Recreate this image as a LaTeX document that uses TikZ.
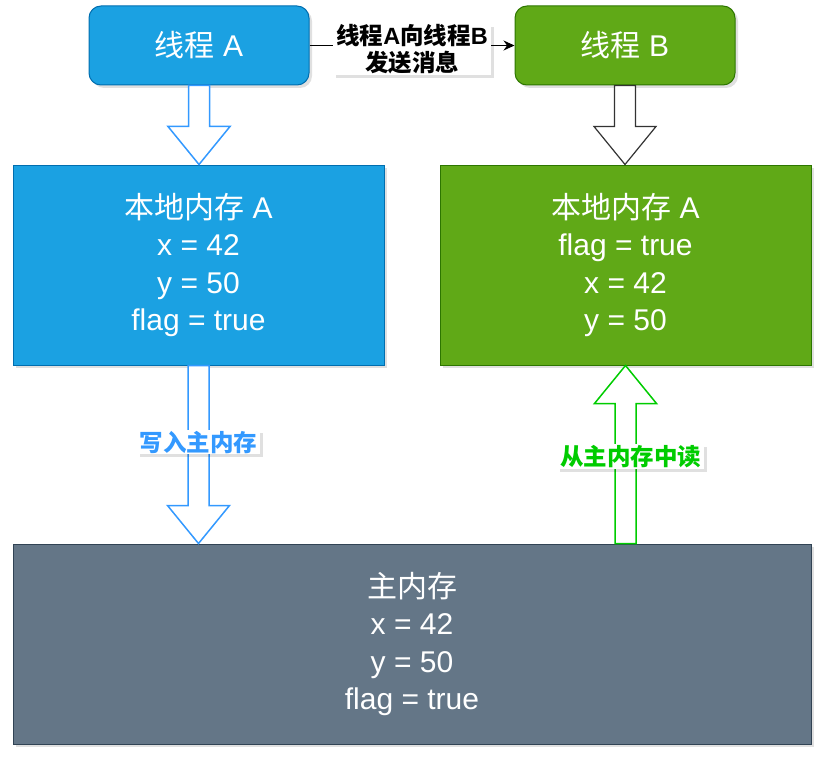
\documentclass[tikz,border=0pt]{standalone}
\usepackage{fontspec}
\setmainfont{Liberation Sans}
\newfontfamily\cjk{Noto Sans CJK SC}
\usetikzlibrary{arrows.meta,shadows,calc}
\definecolor{bluefill}{HTML}{1BA1E2}
\definecolor{bluestroke}{HTML}{006EAF}
\definecolor{greenfill}{HTML}{60A917}
\definecolor{greenstroke}{HTML}{2D7600}
\definecolor{grayfill}{HTML}{647687}
\definecolor{graystroke}{HTML}{314354}
\definecolor{arrowblue}{HTML}{3399FF}
\definecolor{arrowgreen}{HTML}{00CC00}
\definecolor{arrowdark}{HTML}{333333}
\newcommand{\blkarrow}[4]{%
  \draw[#1] let \p1=(#2), \p2=(#3) in
    (\x1-10.5pt,\y1) -- (\x1-10.5pt,\y2#4) -- (\x1-31pt,\y2#4) -- (\x1,\y2)
    -- (\x1+31pt,\y2#4) -- (\x1+10.5pt,\y2#4) -- (\x1+10.5pt,\y1) -- cycle;}
\begin{document}
\begin{tikzpicture}[x=1pt,y=-1pt,
  shadowed/.style={drop shadow={shadow xshift=3pt,shadow yshift=-3pt,fill=black,opacity=0.12}},
  boxtext/.style={text=white,align=center,font=\fontsize{30}{37.5}\selectfont},
  threadbox/.style={boxtext,rounded corners=12pt,line width=1pt,minimum width=220pt,minimum height=79pt,inner sep=0pt,shadowed},
  membox/.style={boxtext,line width=1pt,minimum height=200pt,inner sep=0pt,shadowed},
  blockarrow/.style={fill=white,line width=1.5pt,line join=miter},
  edgelabel/.style={fill=white,align=center,inner xsep=3pt,inner ysep=1pt,font=\fontsize{23.5}{27}\selectfont\bfseries,shadowed}
]
\useasboundingbox (0,0) rectangle (824,757);

\node[threadbox,fill=bluefill,draw=bluestroke] (ta) at (199,45.5) {{\cjk 线程} A};
\node[threadbox,fill=greenfill,draw=greenstroke] (tb) at (625,45.5) {{\cjk 线程} B};

\node[membox,fill=bluefill,draw=bluestroke,minimum width=371pt] (la) at (198.5,265)
  {{\cjk 本地内存} A\\x = 42\\y = 50\\flag = true};
\node[membox,fill=greenfill,draw=greenstroke,minimum width=371pt] (rb) at (625.5,265)
  {{\cjk 本地内存} A\\flag = true\\x = 42\\y = 50};

\node[membox,fill=grayfill,draw=graystroke,minimum width=798pt] (mm) at (412,644)
  {{\cjk 主内存}\\x = 42\\y = 50\\flag = true};

% message arrow
\draw[line width=1.2pt,-{Stealth[length=11pt,width=10pt]}] (ta.east) -- (tb.west)
  node[midway,edgelabel,yshift=-4pt] (msg) {{\cjk 线程}A{\cjk 向线程}B\\{\cjk 发送消息}};

% block arrows
\blkarrow{blockarrow,draw=arrowblue}{ta.south}{la.north}{+38pt}
\blkarrow{blockarrow,draw=arrowdark,line width=1.2pt}{tb.south}{rb.north}{+38pt}
\blkarrow{blockarrow,draw=arrowblue}{la.south}{la.south |- mm.north}{+38pt}
\blkarrow{blockarrow,draw=arrowgreen}{rb.south |- mm.north}{rb.south}{-38pt}

\node[edgelabel,text=arrowblue] (wlab) at ($(la.south)!0.43!(la.south |- mm.north)$) {\cjk 写入主内存};
\node[edgelabel,text=arrowgreen,xshift=5pt] (rlab) at ($(rb.south |- mm.north)!0.49!(rb.south)$) {\cjk 从主内存中读};
\end{tikzpicture}
\end{document}
